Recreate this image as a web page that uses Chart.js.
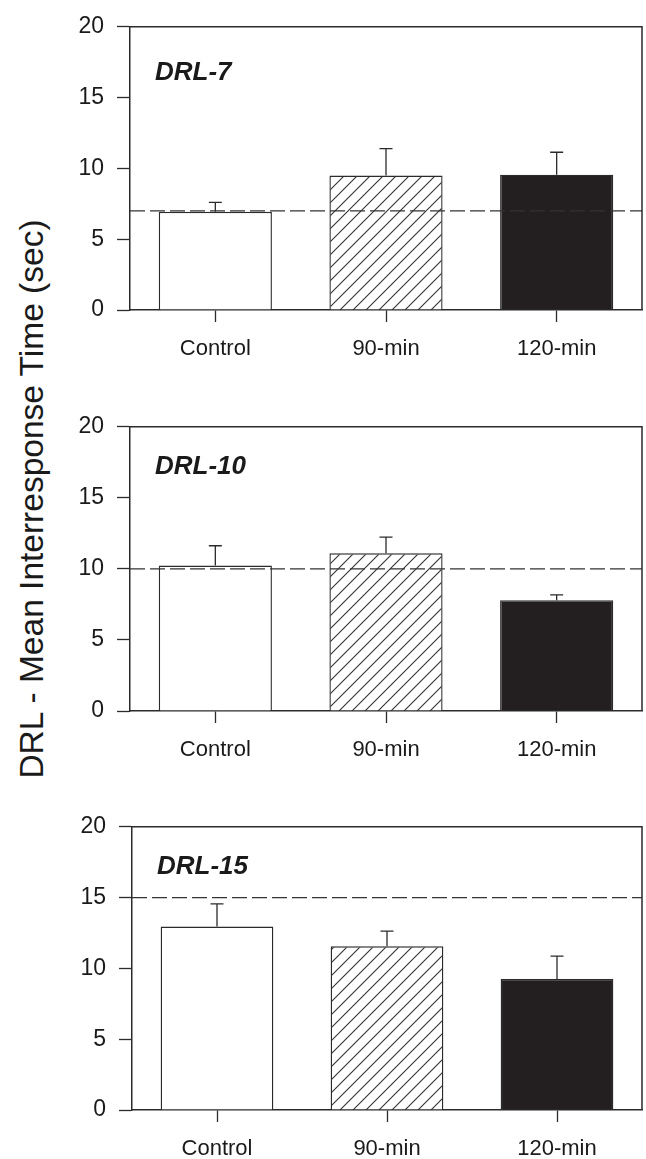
<!DOCTYPE html>
<html>
<head>
<meta charset="utf-8">
<script src="https://cdn.jsdelivr.net/npm/chart.js@4.4.1/dist/chart.umd.min.js"></script>
<style>
  html, body { margin: 0; padding: 0; background: #fff; }
  body { width: 646px; height: 1159px; position: relative; overflow: hidden; }
  canvas { position: absolute; left: 0; }
  #ytitle {
    position: absolute; left: 0; top: 0;
    transform-origin: 0 0;
    transform: translate(32px, 499px) rotate(-90deg) translate(-50%, -50%);
    white-space: nowrap; line-height: 1;
    font-family: "Liberation Sans", Arial, sans-serif;
    font-size: 33.5px; color: #1a1a1a;
  }
</style>
</head>
<body>
<div id="ytitle">DRL - Mean Interresponse Time (sec)</div>
<canvas id="c1" width="646" height="400" style="top:0px"></canvas>
<canvas id="c2" width="646" height="400" style="top:400px"></canvas>
<canvas id="c3" width="646" height="359" style="top:800px"></canvas>
<script>
// ---- data ----
const categories = ['Control', '90-min', '120-min'];
const panelNames = ['DRL-7', 'DRL-10', 'DRL-15'];
const yTickValues = [0, 5, 10, 15, 20];
const criteria = [7, 10, 15];

const drl7Means  = [6.94, 9.49, 9.56];
const drl7Upper  = [7.60, 11.39, 11.14];
const drl10Means = [10.24, 11.10, 7.80];
const drl10Upper = [11.63, 12.24, 8.17];
const drl15Means = [12.96, 11.56, 9.26];
const drl15Upper = [14.56, 12.63, 10.86];

const allMeans = [drl7Means, drl10Means, drl15Means];
const allUpper = [drl7Upper, drl10Upper, drl15Upper];

// ---- styling ----
const FONT = '"Liberation Sans", Arial, sans-serif';
const INK = '#2b2b2b';
const TEXT = '#1a1a1a';

function makeHatch() {
  const s = 13;
  const c = document.createElement('canvas');
  c.width = s; c.height = s;
  const g = c.getContext('2d');
  g.fillStyle = '#fff'; g.fillRect(0, 0, s, s);
  g.strokeStyle = '#333'; g.lineWidth = 1.1;
  g.beginPath();
  g.moveTo(-2, s + 2); g.lineTo(s + 2, -2);
  g.moveTo(-2, 2); g.lineTo(2, -2);
  g.moveTo(s - 2, s + 2); g.lineTo(s + 2, s - 2);
  g.stroke();
  return g.createPattern(c, 'repeat');
}

const panelLayout = [
  { id: 'c1', padTop: 22, areaH: 288, yWidth: 130, padRight: 4, labelBase: 53 },
  { id: 'c2', padTop: 24, areaH: 287, yWidth: 130, padRight: 4, labelBase: 47 },
  { id: 'c3', padTop: 23, areaH: 287, yWidth: 132, padRight: 4, labelBase: 47 }
];

const framePlugin = {
  id: 'frame',
  afterDraw(chart, args, opts) {
    const { ctx, chartArea: a } = chart;
    ctx.save();
    ctx.strokeStyle = INK; ctx.lineWidth = 1.5;
    ctx.beginPath();
    ctx.moveTo(a.left, a.top); ctx.lineTo(a.right, a.top); ctx.lineTo(a.right, a.bottom);
    ctx.stroke();
    ctx.restore();
  }
};

const extrasPlugin = {
  id: 'extras',
  afterDatasetsDraw(chart, args, opts) {
    const { ctx, chartArea: a } = chart;
    const yS = chart.scales.y;
    const meta = chart.getDatasetMeta(0);
    ctx.save();
    // error bars (upper only)
    ctx.strokeStyle = INK; ctx.lineWidth = 1.3;
    meta.data.forEach((bar, i) => {
      const yTop = yS.getPixelForValue(opts.upper[i]);
      ctx.beginPath();
      ctx.moveTo(bar.x, bar.y);
      ctx.lineTo(bar.x, yTop);
      ctx.moveTo(bar.x - 6.5, yTop);
      ctx.lineTo(bar.x + 6.5, yTop);
      ctx.stroke();
    });
    // dashed criterion line
    const yc = yS.getPixelForValue(opts.criterion);
    ctx.strokeStyle = '#333'; ctx.lineWidth = 1.3;
    ctx.setLineDash([15, 5]);
    ctx.beginPath();
    ctx.moveTo(a.left, yc); ctx.lineTo(a.right, yc);
    ctx.stroke();
    ctx.setLineDash([]);
    // panel label
    ctx.fillStyle = TEXT;
    ctx.font = 'italic bold 26px ' + FONT;
    ctx.textBaseline = 'alphabetic';
    ctx.textAlign = 'left';
    ctx.fillText(opts.name, a.left + 25, a.top + opts.labelBase);
    ctx.restore();
  }
};

const hatch = makeHatch();

panelLayout.forEach((p, k) => {
  const canvas = document.getElementById(p.id);
  const xHeight = canvas.height - p.padTop - p.areaH;
  new Chart(canvas, {
    type: 'bar',
    data: {
      labels: categories,
      datasets: [{
        data: allMeans[k],
        backgroundColor: ['#ffffff', hatch, '#231f20'],
        borderColor: INK,
        borderWidth: 1.4,
        borderSkipped: 'bottom',
        barPercentage: 0.663,
        categoryPercentage: 1.0
      }]
    },
    options: {
      responsive: false,
      animation: false,
      events: [],
      layout: { padding: { top: p.padTop, right: p.padRight, left: 0, bottom: 0 } },
      plugins: {
        legend: { display: false },
        tooltip: { enabled: false },
        extras: { upper: allUpper[k], criterion: criteria[k], name: panelNames[k], labelBase: p.labelBase }
      },
      scales: {
        x: {
          type: 'category',
          offset: true,
          grid: { display: true, drawOnChartArea: false, drawTicks: true, offset: false,
                  tickLength: 12, tickWidth: 1.3, tickColor: INK },
          border: { display: true, color: INK, width: 1.5 },
          ticks: { color: TEXT, font: { family: FONT, size: 22 }, padding: 14, maxRotation: 0 },
          afterFit(scale) { scale.height = xHeight; }
        },
        y: {
          min: 0, max: 20,
          afterBuildTicks(scale) { scale.ticks = yTickValues.map(v => ({ value: v })); },
          grid: { display: true, drawOnChartArea: false, drawTicks: true,
                  tickLength: 13, tickWidth: 1.3, tickColor: INK },
          border: { display: true, color: INK, width: 1.5 },
          ticks: { color: TEXT, font: { family: FONT, size: 23 }, padding: 13 },
          afterFit(scale) { scale.width = p.yWidth; }
        }
      }
    },
    plugins: [framePlugin, extrasPlugin]
  });
});
</script>
</body>
</html>
